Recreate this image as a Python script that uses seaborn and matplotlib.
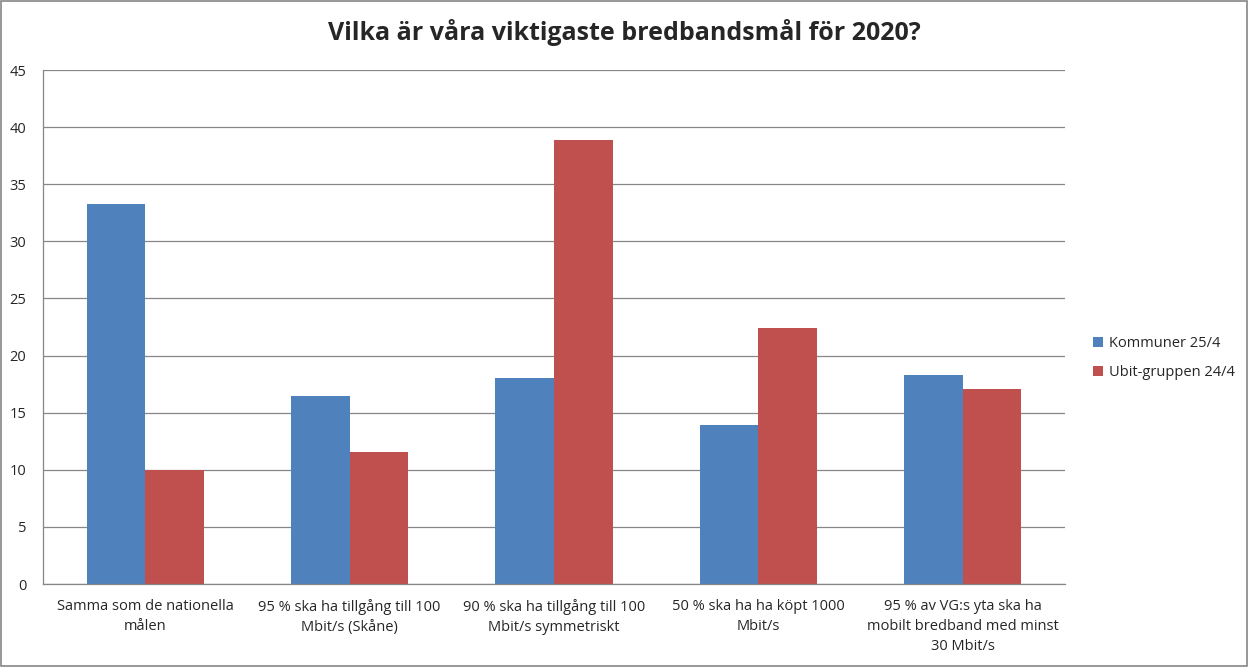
import matplotlib
matplotlib.use("Agg")
import matplotlib.pyplot as plt
import seaborn as sns
import pandas as pd

categories = [
    "Samma som de nationella\nmålen",
    "95 % ska ha tillgång till 100\nMbit/s (Skåne)",
    "90 % ska ha tillgång till 100\nMbit/s symmetriskt",
    "50 % ska ha ha köpt 1000\nMbit/s",
    "95 % av VG:s yta ska ha\nmobilt bredband med minst\n30 Mbit/s",
]
series_names = ["Kommuner 25/4", "Ubit-gruppen 24/4"]
kommuner = [33.3, 16.5, 18.0, 13.9, 18.3]
ubit = [10.0, 11.6, 38.9, 22.4, 17.1]
yticks = [0, 5, 10, 15, 20, 25, 30, 35, 40, 45]

rows = []
for c, v in zip(categories, kommuner):
    rows.append({"cat": c, "series": series_names[0], "value": v})
for c, v in zip(categories, ubit):
    rows.append({"cat": c, "series": series_names[1], "value": v})
df = pd.DataFrame(rows)

sns.set_theme(style="white")
plt.rcParams["font.family"] = ["Open Sans", "DejaVu Sans"]

fig = plt.figure(figsize=(12.48, 6.67), dpi=100)
ax = fig.add_axes([43 / 1248, 1 - 584 / 667, (1065 - 43) / 1248, (584 - 70) / 667])

sns.barplot(data=df, x="cat", y="value", hue="series", order=categories,
            hue_order=series_names, palette=["#4F81BD", "#C0504D"],
            width=0.573, gap=0, ax=ax, legend=True, saturation=1, linewidth=0)

ax.set_ylim(0, 45)
ax.set_yticks(yticks)
ax.set_yticklabels([str(t) for t in yticks], fontsize=10.5)
ax.set_xlim(-0.5, len(categories) - 0.5)
ax.yaxis.grid(True, color="#868686", linewidth=0.9)
ax.set_axisbelow(True)
ax.set_xlabel("")
ax.set_ylabel("")
ax.tick_params(axis="x", labelsize=10.5, length=0, pad=11)
ax.tick_params(axis="y", length=0, pad=12)
for lbl in ax.get_xticklabels():
    lbl.set_linespacing(1.45)
for s in ["top", "right"]:
    ax.spines[s].set_visible(False)
for s in ["left", "bottom"]:
    ax.spines[s].set_color("#868686")
    ax.spines[s].set_linewidth(0.9)

handles, labels = ax.get_legend_handles_labels()
ax.legend_.remove()
fig.legend(handles, labels, loc="center left", bbox_to_anchor=(1080 / 1248, 1 - 358 / 667),
           frameon=False, fontsize=10.5, handlelength=0.7, handleheight=0.7,
           handletextpad=0.4, labelspacing=1.0)

fig.text(0.5, 1 - 32 / 667, "Vilka är våra viktigaste bredbandsmål för 2020?",
         ha="center", va="center", fontsize=18, fontweight="bold")

fig.patches.append(plt.Rectangle((0.001, 0.001), 0.998, 0.997, transform=fig.transFigure,
                                 fill=False, edgecolor="#868686", linewidth=1.2))

fig.savefig("out.png", dpi=100)
